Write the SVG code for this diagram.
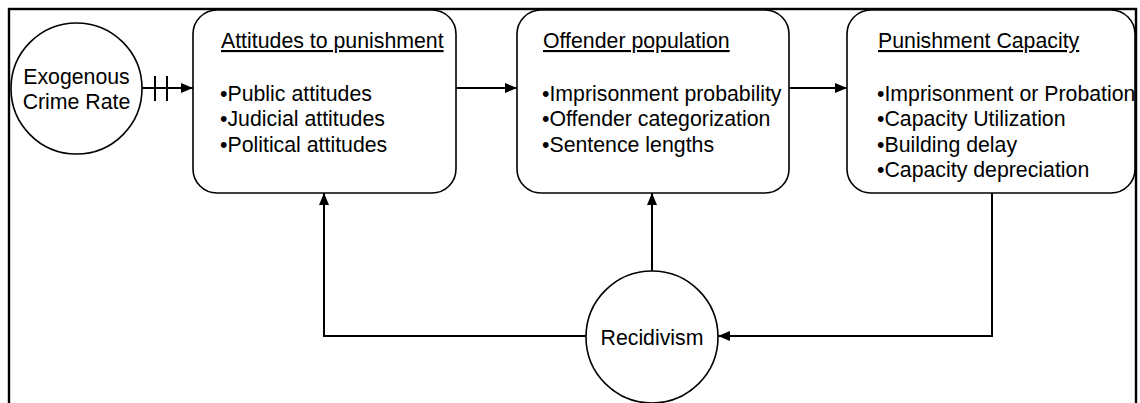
<svg xmlns="http://www.w3.org/2000/svg" width="1140" height="403" viewBox="0 0 1140 403">
<style>
.node{fill:#fff;stroke:#000;stroke-width:1.6}
.t{font-family:"Liberation Sans",Arial,sans-serif;font-size:21.3px;fill:#000}
.c{text-anchor:middle}
.u{text-decoration:underline}
.conn{fill:none;stroke:#000;stroke-width:2}
</style>
<defs>
<marker id="ah" markerWidth="12" markerHeight="10" refX="12" refY="5" orient="auto" markerUnits="userSpaceOnUse">
<path d="M0,0 L12,5 L0,10 Z" fill="#000"/>
</marker>
</defs>
<rect x="9" y="9" width="1127" height="420" fill="#fff" stroke="#000" stroke-width="2.4"/>
<g id="connectors">
<path class="conn" d="M142,88 H193" marker-end="url(#ah)"/>
<path class="conn" d="M155,76 V101 M167,76 V101"/>
<path class="conn" d="M456,88 H517" marker-end="url(#ah)"/>
<path class="conn" d="M789,88 H847" marker-end="url(#ah)"/>
<path class="conn" d="M992,193 V336 H718" marker-end="url(#ah)"/>
<path class="conn" d="M652,271 V193" marker-end="url(#ah)"/>
<path class="conn" d="M586,336 H324 V193" marker-end="url(#ah)"/>
</g>
<g id="exogenous">
<circle class="node" cx="76.5" cy="88.5" r="65.5"/>
<text class="t c" x="76.5" y="83.5">Exogenous</text>
<text class="t c" x="76.5" y="109">Crime Rate</text>
</g>
<g id="attitudes">
<rect class="node" x="193" y="10" width="263" height="183" rx="24" ry="24"/>
<text class="t u" x="221" y="48">Attitudes to punishment</text>
<text class="t" x="220" y="100.5">•Public attitudes</text>
<text class="t" x="220" y="126">•Judicial attitudes</text>
<text class="t" x="220" y="151.5">•Political attitudes</text>
</g>
<g id="offender">
<rect class="node" x="517" y="10" width="272" height="183" rx="24" ry="24"/>
<text class="t u" x="543" y="48">Offender population</text>
<text class="t" x="542" y="100.5">•Imprisonment probability</text>
<text class="t" x="542" y="126">•Offender categorization</text>
<text class="t" x="542" y="151.5">•Sentence lengths</text>
</g>
<g id="capacity">
<rect class="node" x="847" y="10" width="288" height="183" rx="24" ry="24"/>
<text class="t u" x="878" y="48">Punishment Capacity</text>
<text class="t" x="877" y="100.5">•Imprisonment or Probation</text>
<text class="t" x="877" y="126">•Capacity Utilization</text>
<text class="t" x="877" y="151.5">•Building delay</text>
<text class="t" x="877" y="177">•Capacity depreciation</text>
</g>
<g id="recidivism">
<circle class="node" cx="652" cy="337" r="66"/>
<text class="t c" x="652" y="344.5">Recidivism</text>
</g>
</svg>
